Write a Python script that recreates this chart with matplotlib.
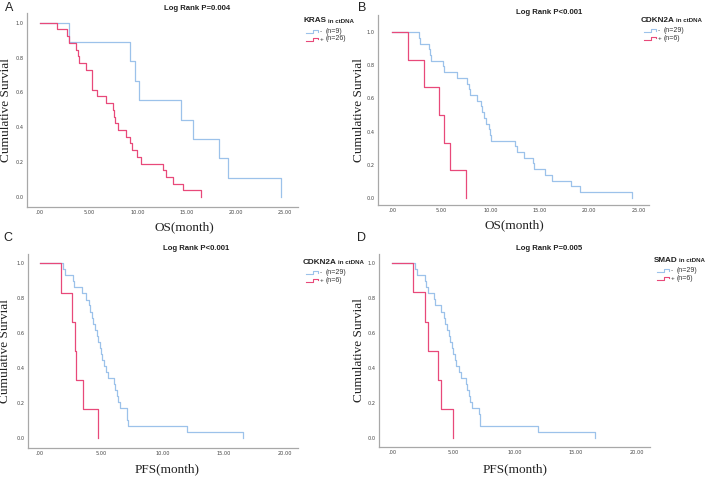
"""Kaplan-Meier panels (OS / PFS by ctDNA mutation status), 2x2 layout."""
import matplotlib
matplotlib.use("Agg")
import matplotlib.pyplot as plt
from matplotlib.lines import Line2D

W, H = 708, 478

# ---- values ----------------------------------------------------------------
SURV_9 = [1.0, .889, .778, .667, .556, .444, .333, .222, .111, 0.0]
SURV_6 = [1.0, .833, .667, .500, .333, .167, 0.0]
SURV_26 = [1.0, .962, .923, .885, .846, .808, .769, .731, .692, .654, .615,
           .577, .538, .500, .462, .423, .385, .346, .308, .269, .231, .192,
           .154, .115, .077, .038, 0.0]
SURV_29 = [1.0, .966, .931, .897, .862, .828, .793, .759, .724, .690, .655,
           .621, .586, .552, .517, .483, .448, .414, .379, .345, .310, .276,
           .241, .207, .172, .138, .103, .069, .034, 0.0]

# A: KRAS, OS
A_NEG_T = [0, 2.96, 9.15, 9.73, 10.07, 14.35, 15.61, 18.27, 19.22, 24.56]
A_POS_T = [0, 1.70, 2.72, 2.99, 3.71, 3.84, 4.01, 4.69, 5.27, 5.31, 5.34,
           5.85, 6.70, 7.48, 7.59, 7.69, 7.99, 8.74, 9.18, 9.35, 9.90, 10.27,
           12.59, 12.82, 13.54, 14.62, 16.39]
# B: CDKN2A, OS
B_NEG_T = [0, 2.68, 2.82, 3.76, 3.86, 3.93, 5.19, 5.29, 6.61, 7.62, 7.76,
           7.90, 8.64, 8.98, 9.12, 9.32, 9.49, 9.79, 9.93, 10.03, 12.47,
           12.64, 13.38, 14.26, 14.40, 15.52, 16.26, 18.20, 19.10, 24.40]
B_POS_T = [0, 1.63, 3.22, 4.75, 5.25, 5.83, 7.52]
# C: CDKN2A, PFS
C_NEG_T = [0, 1.85, 2.04, 2.67, 2.80, 3.40, 3.76, 4.03, 4.08, 4.24, 4.35,
           4.49, 4.63, 4.76, 4.90, 4.95, 5.06, 5.22, 5.39, 5.58, 6.04, 6.15,
           6.26, 6.37, 6.53, 7.13, 7.14, 7.16, 12.03, 16.60]
C_POS_T = [0, 1.69, 2.64, 2.83, 2.94, 3.48, 4.76]
# D: SMAD, PFS
D_NEG_T = [0, 1.83, 2.02, 2.65, 2.78, 2.92, 3.38, 3.52, 4.01, 4.20, 4.33,
           4.47, 4.61, 4.74, 4.88, 4.96, 5.10, 5.23, 5.42, 5.61, 6.02, 6.13,
           6.24, 6.35, 6.51, 7.11, 7.12, 7.13, 11.89, 16.52]
D_POS_T = [0, 1.67, 2.70, 2.92, 3.73, 4.00, 4.93]

X_TICKS_OS = [0, 5, 10, 15, 20, 25]
X_TICKS_PFS = [0, 5, 10, 15, 20]
Y_TICKS = [0.0, 0.2, 0.4, 0.6, 0.8, 1.0]

BLUE = "#9cc2ea"
RED = "#e8497a"
SERIF = ["Liberation Serif", "DejaVu Serif"]
SANS = ["Liberation Sans", "DejaVu Sans"]


def fx(x):
    return x / W


def fy(y):
    return 1 - y / H


def ticklabel(v):
    return ".00" if v == 0 else f"{v:.2f}"


PANELS = [
    # letter, rect px (left, top, right, bottom), xlim, ylim, ticks, curves
    dict(letter="A", lpos=(9, 8), rect=(27, 13, 298, 207),
         xlim=(-1.33, 26.33), ylim=(-0.057, 1.056), xticks=X_TICKS_OS,
         neg=(A_NEG_T, SURV_9), pos=(A_POS_T, SURV_26),
         title="Log Rank P=0.004", tpos=(197, 8),
         xlabel="OS(month)", xlpos=(184, 227), ylx=6,
         gene="KRAS", leg=(303, 21), n_neg="(n=9)", n_pos="(n=26)"),
    dict(letter="B", lpos=(362, 8), rect=(378, 15, 649, 205),
         xlim=(-1.45, 26.08), ylim=(-0.044, 1.104), xticks=X_TICKS_OS,
         neg=(B_NEG_T, SURV_29), pos=(B_POS_T, SURV_6),
         title="Log Rank P<0.001", tpos=(549, 13),
         xlabel="OS(month)", xlpos=(514, 225), ylx=359,
         gene="CDKN2A", leg=(641, 20), n_neg="(n=29)", n_pos="(n=6)"),
    dict(letter="C", lpos=(8, 238), rect=(28, 254, 298, 448),
         xlim=(-0.98, 21.06), ylim=(-0.055, 1.053), xticks=X_TICKS_PFS,
         neg=(C_NEG_T, SURV_29), pos=(C_POS_T, SURV_6),
         title="Log Rank P<0.001", tpos=(196, 249),
         xlabel="PFS(month)", xlpos=(167, 469), ylx=5,
         gene="CDKN2A", leg=(303, 262), n_neg="(n=29)", n_pos="(n=6)"),
    dict(letter="D", lpos=(361, 238), rect=(379, 254, 650, 447),
         xlim=(-1.09, 21.04), ylim=(-0.050, 1.053), xticks=X_TICKS_PFS,
         neg=(D_NEG_T, SURV_29), pos=(D_POS_T, SURV_6),
         title="Log Rank P=0.005", tpos=(549, 249),
         xlabel="PFS(month)", xlpos=(515, 469), ylx=359,
         gene="SMAD", leg=(654, 260), n_neg="(n=29)", n_pos="(n=6)"),
]

fig = plt.figure(figsize=(W / 100, H / 100), dpi=100)
renderer = fig.canvas.get_renderer()

for p in PANELS:
    l, t, r, b = p["rect"]
    ax = fig.add_axes([fx(l), fy(b), (r - l) / W, (b - t) / H])
    for times, surv, color in [(*p["neg"], BLUE), (*p["pos"], RED)]:
        ax.step(times, surv, where="post", color=color, lw=0.9)
    ax.set_xlim(*p["xlim"])
    ax.set_ylim(*p["ylim"])
    ax.set_xticks(p["xticks"])
    ax.set_xticklabels([ticklabel(v) for v in p["xticks"]])
    ax.set_yticks(Y_TICKS)
    ax.set_yticklabels([f"{v:.1f}" for v in Y_TICKS])
    ax.tick_params(length=0, pad=2.5, labelsize=3.6, colors="#444444")
    for s in ("top", "right"):
        ax.spines[s].set_visible(False)
    for s in ("left", "bottom"):
        ax.spines[s].set_color("#a8a8a8")
        ax.spines[s].set_linewidth(0.9)

    # axis labels, title, panel letter
    ymid = (t + b) / 2
    fig.text(fx(p["ylx"]), fy(ymid), "Cumulative Survial", rotation=90,
             ha="center", va="center", fontsize=9.5, family=SERIF,
             color="#222222")
    fig.text(fx(p["xlpos"][0]), fy(p["xlpos"][1]), p["xlabel"],
             ha="center", va="center", fontsize=9.5, family=SERIF,
             color="#222222")
    fig.text(fx(p["tpos"][0]), fy(p["tpos"][1]), p["title"], ha="center",
             va="center", fontsize=5.6, weight="bold", family=SANS,
             color="#222222")
    fig.text(fx(p["lpos"][0]), fy(p["lpos"][1]), p["letter"], ha="center",
             va="center", fontsize=9, family=SANS, color="#222222")

    # legend (SPSS style): bold gene name, smaller "in ctDNA", step symbols
    lx, ly = p["leg"]
    g = fig.text(fx(lx), fy(ly), p["gene"], ha="left", va="center",
                 fontsize=5.9, weight="bold", family=SANS, color="#222222")
    gx1 = g.get_window_extent(renderer).x1
    fig.text(fx(gx1 + 1.5), fy(ly + 0.3), "in ctDNA",
             ha="left", va="center", fontsize=4.4, weight="bold",
             family=SANS, color="#222222")
    for k, (color, sign, ntxt) in enumerate(
            [(BLUE, "-", p["n_neg"]), (RED, "+", p["n_pos"])]):
        ey = ly + 10.5 + k * 7.5
        sx = [lx + 3, lx + 10, lx + 10, lx + 15, lx + 15]
        sy = [ey + 1.5, ey + 1.5, ey - 1.5, ey - 1.5, ey]
        fig.add_artist(Line2D([fx(v) for v in sx], [fy(v) for v in sy],
                              transform=fig.transFigure, color=color,
                              lw=0.8))
        fig.text(fx(lx + 17), fy(ey + 0.5), sign, ha="left", va="center",
                 fontsize=4.6, family=SANS, color="#333333")
        fig.text(fx(lx + 23), fy(ey), ntxt, ha="left", va="center",
                 fontsize=5.0, family=SANS, color="#333333")

fig.savefig("out.png", dpi=100)
